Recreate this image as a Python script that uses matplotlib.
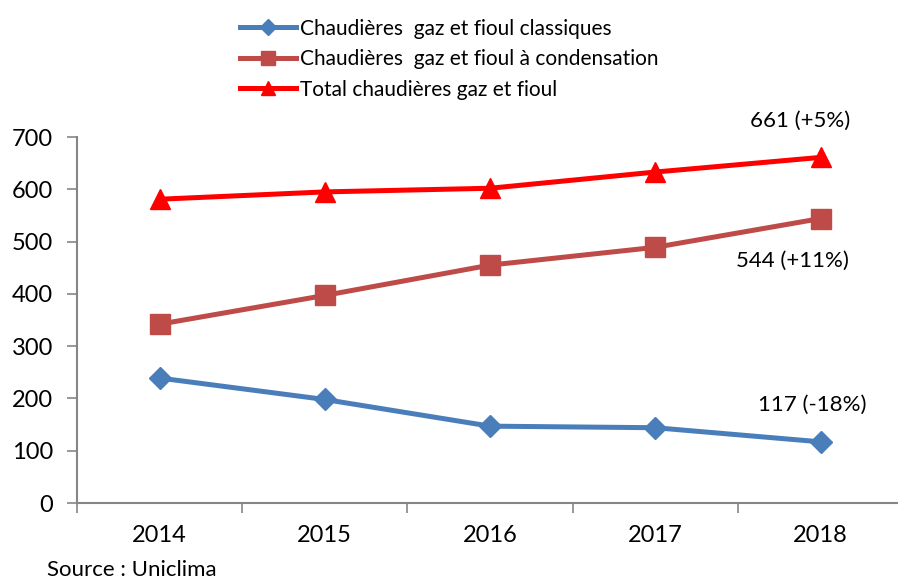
""" boiler sales 2014-2018 """

import matplotlib.pyplot as plt
import numpy as np

years = ['2014', '2015', '2016', '2017', '2018']
classiques = [239, 198, 147, 144, 117]
condensation = [342, 397, 455, 489, 544]
total = [581, 595, 602, 633, 661]
end_labels = ['117 (-18%)', '544 (+11%)', '661 (+5%)']

plt.rcParams['font.family'] = ['Lato', 'DejaVu Sans']

fig = plt.figure(figsize=(8.98, 5.83), dpi=100)
ax = fig.add_axes([0.0857, 0.1372, 0.9200, 0.6278])

x = np.arange(len(years))
l1, = ax.plot(x, classiques, color='#4A7EBB', lw=3.6, marker='D', ms=11,
              label='Chaudières  gaz et fioul classiques')
l2, = ax.plot(x, condensation, color='#BE4B48', lw=3.6, marker='s', ms=14,
              label='Chaudières  gaz et fioul à condensation')
l3, = ax.plot(x, total, color='#FF0000', lw=3.6, marker='^', ms=14,
              label='Total chaudières gaz et fioul')

ax.set_xlim(-0.5, len(years) - 0.5)
ax.set_ylim(0, 700)
ax.set_yticks(range(0, 701, 100))
ax.set_xticks(x)
ax.set_xticklabels(years)
ax.set_xticks(np.arange(-0.5, len(years)), minor=True)
ax.tick_params(axis='x', which='major', length=0, pad=16, labelsize=17)
ax.tick_params(axis='x', which='minor', length=7, width=1.2, color='#868686')
ax.tick_params(axis='y', length=7, width=1.2, color='#868686', labelsize=17, pad=10)
for s in ['top', 'right']:
    ax.spines[s].set_visible(False)
for s in ['left', 'bottom']:
    ax.spines[s].set_color('#868686')
    ax.spines[s].set_linewidth(1.5)

ax.annotate(end_labels[0], (x[-1], classiques[-1]), xytext=(-6, 22),
            textcoords='offset points', ha='center', fontsize=16)
ax.annotate(end_labels[1], (x[-1], condensation[-1]), xytext=(-20, -35),
            textcoords='offset points', ha='center', fontsize=16)
ax.annotate(end_labels[2], (x[-1], total[-1]), xytext=(-15, 22),
            textcoords='offset points', ha='center', fontsize=16)

fig.legend(handles=[l1, l2, l3], loc='upper left', bbox_to_anchor=(0.246, 1.0),
           frameon=False, fontsize=15, handlelength=2.7, handletextpad=0.2,
           labelspacing=0.5, markerscale=0.7)

fig.text(0.052, 0.012, 'Source : Uniclima', fontsize=16)

fig.savefig('out.png', dpi=100)
